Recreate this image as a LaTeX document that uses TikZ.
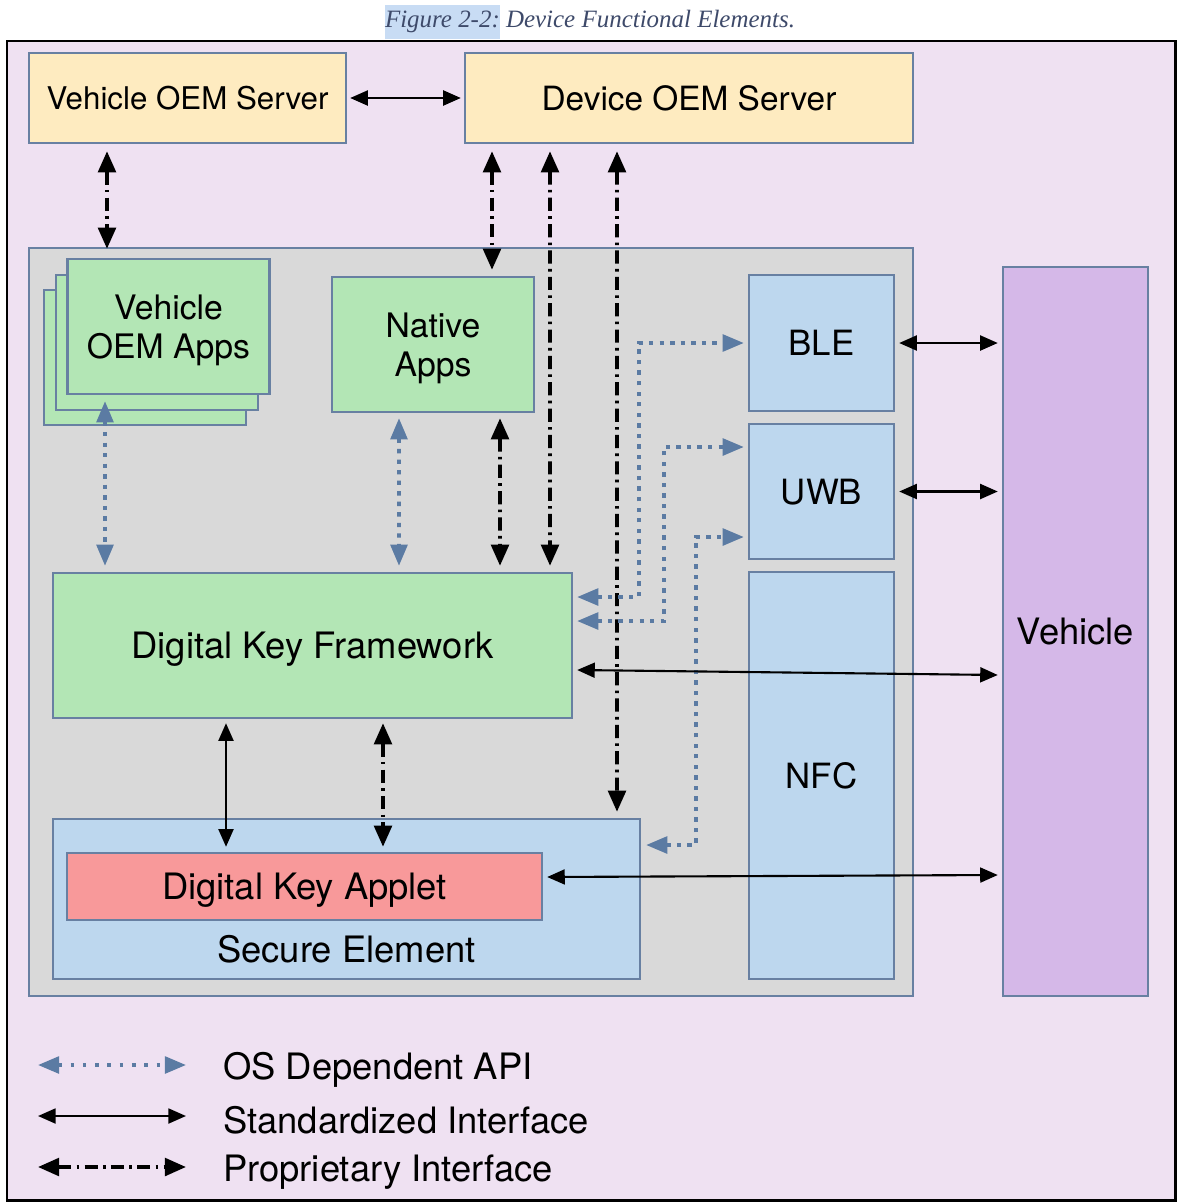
\documentclass[tikz,border=0pt]{standalone}
\usepackage{fontspec}
\setsansfont{TeX Gyre Heros}
\newfontfamily\capfont{Liberation Serif}
\usepackage{tikz}
\usetikzlibrary{arrows.meta,calc}

\definecolor{lavender}{HTML}{EFE1F2}
\definecolor{edgeblue}{HTML}{6880A2}
\definecolor{srvyellow}{HTML}{FEEBC0}
\definecolor{devgray}{HTML}{D9D9D9}
\definecolor{appgreen}{HTML}{B3E6B5}
\definecolor{radioblue}{HTML}{BDD7EE}
\definecolor{appletred}{HTML}{F8999A}
\definecolor{vehpurple}{HTML}{D5B8E8}
\definecolor{dotblue}{HTML}{5B7BA3}
\definecolor{captext}{HTML}{3E4A6A}
\definecolor{caphl}{HTML}{C8DCF4}

\begin{document}
\begin{tikzpicture}[x=0.02cm, y=-0.02cm, font=\sffamily,
    box/.style={draw=edgeblue, line width=1.4pt, inner sep=0pt, align=center, text depth=0pt},
    big/.style={font=\sffamily\fontsize{20.7pt}{22pt}\selectfont},
    radio/.style={font=\sffamily\fontsize{19.8pt}{22pt}\selectfont},
    mid/.style={font=\sffamily\fontsize{19.2pt}{22.2pt}\selectfont},
    srvtext/.style={font=\sffamily\fontsize{#1}{22pt}\selectfont},
    std/.style={line width=1.2pt, {Triangle[length=10pt,width=8.5pt]}-{Triangle[length=10pt,width=8.5pt]}},
    prop/.style={line width=2.1pt, dash pattern=on 7.5pt off 3pt on 1.5pt off 3pt,
        {Triangle[length=12pt,width=10pt]}-{Triangle[length=12pt,width=10pt]}},
    os/.style={draw=dotblue, line width=2pt, dash pattern=on 2.5pt off 3.5pt,
        {Triangle[length=12pt,width=9.5pt]}-{Triangle[length=12pt,width=9.5pt]}}]
    \useasboundingbox (0,0) rectangle (1180,1204);
    % caption and frame
    \node[text=captext, font=\capfont\itshape\fontsize{14.2pt}{16pt}\selectfont] (caption) at (590,22)
        {{\setlength\fboxsep{0pt}\colorbox{caphl}{\rule[-6.5pt]{0pt}{19pt}Figure 2-2:}} Device Functional Elements.};
    \draw[line width=1.7pt, fill=lavender] (7,41) rectangle (1175,1200);

    % servers
    \node[box, srvtext=17.8pt, fill=srvyellow, minimum width=6.34cm, minimum height=1.8cm] (vserver) at (187.5,98) {Vehicle OEM Server};
    \node[box, srvtext=19pt, fill=srvyellow, minimum width=8.96cm, minimum height=1.8cm] (dserver) at (689,98) {Device OEM Server};

    % device
    \node[box, fill=devgray, minimum width=17.68cm, minimum height=14.96cm] (device) at (471,622) {};
    \node[box, fill=appgreen, minimum width=4.04cm, minimum height=2.7cm] (vapps3) at (145,357.5) {};
    \node[box, fill=appgreen, minimum width=4.04cm, minimum height=2.7cm] (vapps2) at (157,342.5) {};
    \node[box, mid, fill=appgreen, minimum width=4.04cm, minimum height=2.7cm] (vapps) at (168.5,326.5) {Vehicle\\OEM Apps};
    \node[box, mid, fill=appgreen, minimum width=4.04cm, minimum height=2.7cm] (napps) at (433,344.5) {Native\\Apps};
    \node[box, radio, fill=radioblue, minimum width=2.9cm, minimum height=2.72cm] (ble) at (821.5,343) {BLE};
    \node[box, radio, fill=radioblue, minimum width=2.9cm, minimum height=2.7cm] (uwb) at (821.5,491.5) {UWB};
    \node[box, radio, fill=radioblue, minimum width=2.9cm, minimum height=8.14cm] (nfc) at (821.5,775.5) {NFC};
    \node[box, big, fill=appgreen, minimum width=10.38cm, minimum height=2.9cm] (dkf) at (312.5,645.5) {Digital Key Framework};
    \node[box, fill=radioblue, minimum width=11.74cm, minimum height=3.2cm] (se) at (346.5,899) {};
    \node[big] (setext) at ($(se.south)+(0,-31)$) {Secure Element};
    \node[box, big, fill=appletred, minimum width=9.5cm, minimum height=1.34cm] (applet) at (304.5,886.5) {Digital Key Applet};

    % vehicle
    \node[box, big, fill=vehpurple, minimum width=2.9cm, minimum height=14.58cm] (vehicle) at (1075.5,631.5) {Vehicle};

    % connectors
    \draw[std] ($(vserver.east)+(3,0)$) -- ($(dserver.west)+(-3,0)$);
    \draw[prop] ($(vserver.south)+(-80.5,7)$) -- ($(vapps.north)+(-61.5,-9)$);
    \draw[prop] ($(dserver.south)+(-197,7)$) -- ($(napps.north)+(59,-6)$);
    \draw[prop] ($(dserver.south)+(-139,7)$) -- ($(dkf.north)+(237.5,-6)$);
    \draw[prop] ($(dserver.south)+(-72,7)$) -- ($(se.north)+(270.5,-6)$);
    \draw[os] ($(vapps.south)+(-63.5,6)$) -- ($(dkf.north)+(-207.5,-6)$);
    \draw[os] ($(napps.south)+(-34,5)$) -- ($(dkf.north)+(86.5,-6)$);
    \draw[prop] ($(napps.south)+(67,5)$) -- ($(dkf.north)+(187.5,-6)$);
    \draw[std] ($(dkf.south)+(-86.5,4)$) -- ($(applet.north)+(-78.5,-5)$);
    \draw[prop] ($(dkf.south)+(70.5,4)$) -- ($(applet.north)+(78.5,-5)$);
    \draw[os] ($(dkf.east)+(4,-48.5)$) -| ($(ble.west)+(-109,0)$) -- ($(ble.west)+(-4,0)$);
    \draw[os] ($(dkf.east)+(4,-24.5)$) -| ($(uwb.west)+(-84,-44.5)$) -- ($(uwb.west)+(-4,-44.5)$);
    \draw[os] ($(se.east)+(5,-54)$) -| ($(uwb.west)+(-52,45.5)$) -- ($(uwb.west)+(-4,45.5)$);
    \draw[std] ($(ble.east)+(4,0)$) -- ($(ble.east -| vehicle.west)+(-4,0)$);
    \draw[std] ($(uwb.east)+(4,0)$) -- ($(uwb.east -| vehicle.west)+(-4,0)$);
    \draw[std] ($(dkf.east)+(4,24.5)$) -- ($(vehicle.west)+(-4,43.5)$);
    \draw[std] ($(applet.east)+(4,-9.5)$) -- ($(vehicle.west)+(-4,243.5)$);

    % legend
    \node[big, anchor=west] (lgos) at (217,1070) {OS Dependent API};
    \node[big, anchor=west] (lgstd) at (217,1120) {Standardized Interface};
    \node[big, anchor=west] (lgprop) at (217,1172) {Proprietary Interface};
    \draw[os, dash pattern=on 2pt off 5pt] ($(lgos.west)+(-179,-5)$) -- ($(lgos.west)+(-31,-5)$);
    \draw[std] ($(lgstd.west)+(-179,-4)$) -- ($(lgstd.west)+(-31,-4)$);
    \draw[prop] ($(lgprop.west)+(-179,-5)$) -- ($(lgprop.west)+(-31,-5)$);
\end{tikzpicture}
\end{document}
